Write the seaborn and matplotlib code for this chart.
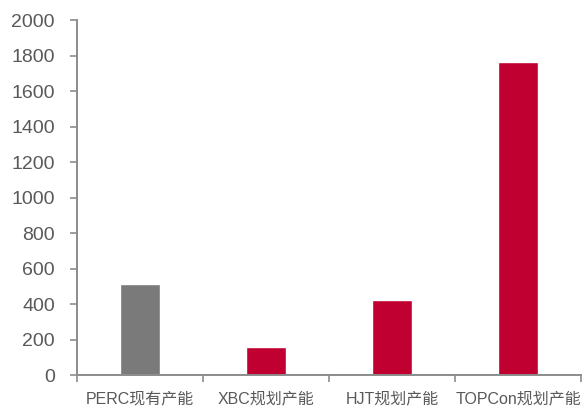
import matplotlib
matplotlib.use("Agg")
import matplotlib.pyplot as plt
import seaborn as sns
import pandas as pd
import numpy as np

categories = ["PERC现有产能", "XBC规划产能", "HJT规划产能", "TOPCon规划产能"]
capacity = [512, 160, 420, 1762]
bar_colors = ["#7a7a7a", "#c00030", "#c00030", "#c00030"]
y_ticks = [0, 200, 400, 600, 800, 1000, 1200, 1400, 1600, 1800, 2000]

sns.set_theme(style="white")
plt.rcParams["font.family"] = ["Liberation Sans", "Noto Sans CJK SC"]

df = pd.DataFrame({"cat": categories, "val": capacity})

fig = plt.figure(figsize=(5.82, 4.07), dpi=100)
ax = fig.add_axes([0.1323, 0.0786, 0.866, 0.8722])

sns.barplot(data=df, x="cat", y="val", hue="cat", palette=bar_colors,
            legend=False, width=0.31, saturation=1, ax=ax)

ax.set_xlim(-0.5, len(categories) - 0.5)
ax.set_ylim(0, 2000)
ax.set_yticks(y_ticks)
ax.set_xlabel("")
ax.set_ylabel("")

axis_color = "#8c8c8c"
text_color = "#595959"
for side in ["top", "right"]:
    ax.spines[side].set_visible(False)
for side in ["left", "bottom"]:
    ax.spines[side].set_color(axis_color)
    ax.spines[side].set_linewidth(1.4)

ax.tick_params(axis="y", which="major", left=True, length=5, width=1.2,
               color=axis_color, labelcolor=text_color, labelsize=14, pad=11)
ax.tick_params(axis="x", which="major", bottom=False, length=0,
               labelcolor=text_color, labelsize=11.5, pad=12)
ax.set_xticks(np.arange(-0.5, len(categories)), minor=True)
ax.tick_params(axis="x", which="minor", bottom=True, length=5, width=1.2,
               color=axis_color)

fig.savefig("out.png", dpi=100)
